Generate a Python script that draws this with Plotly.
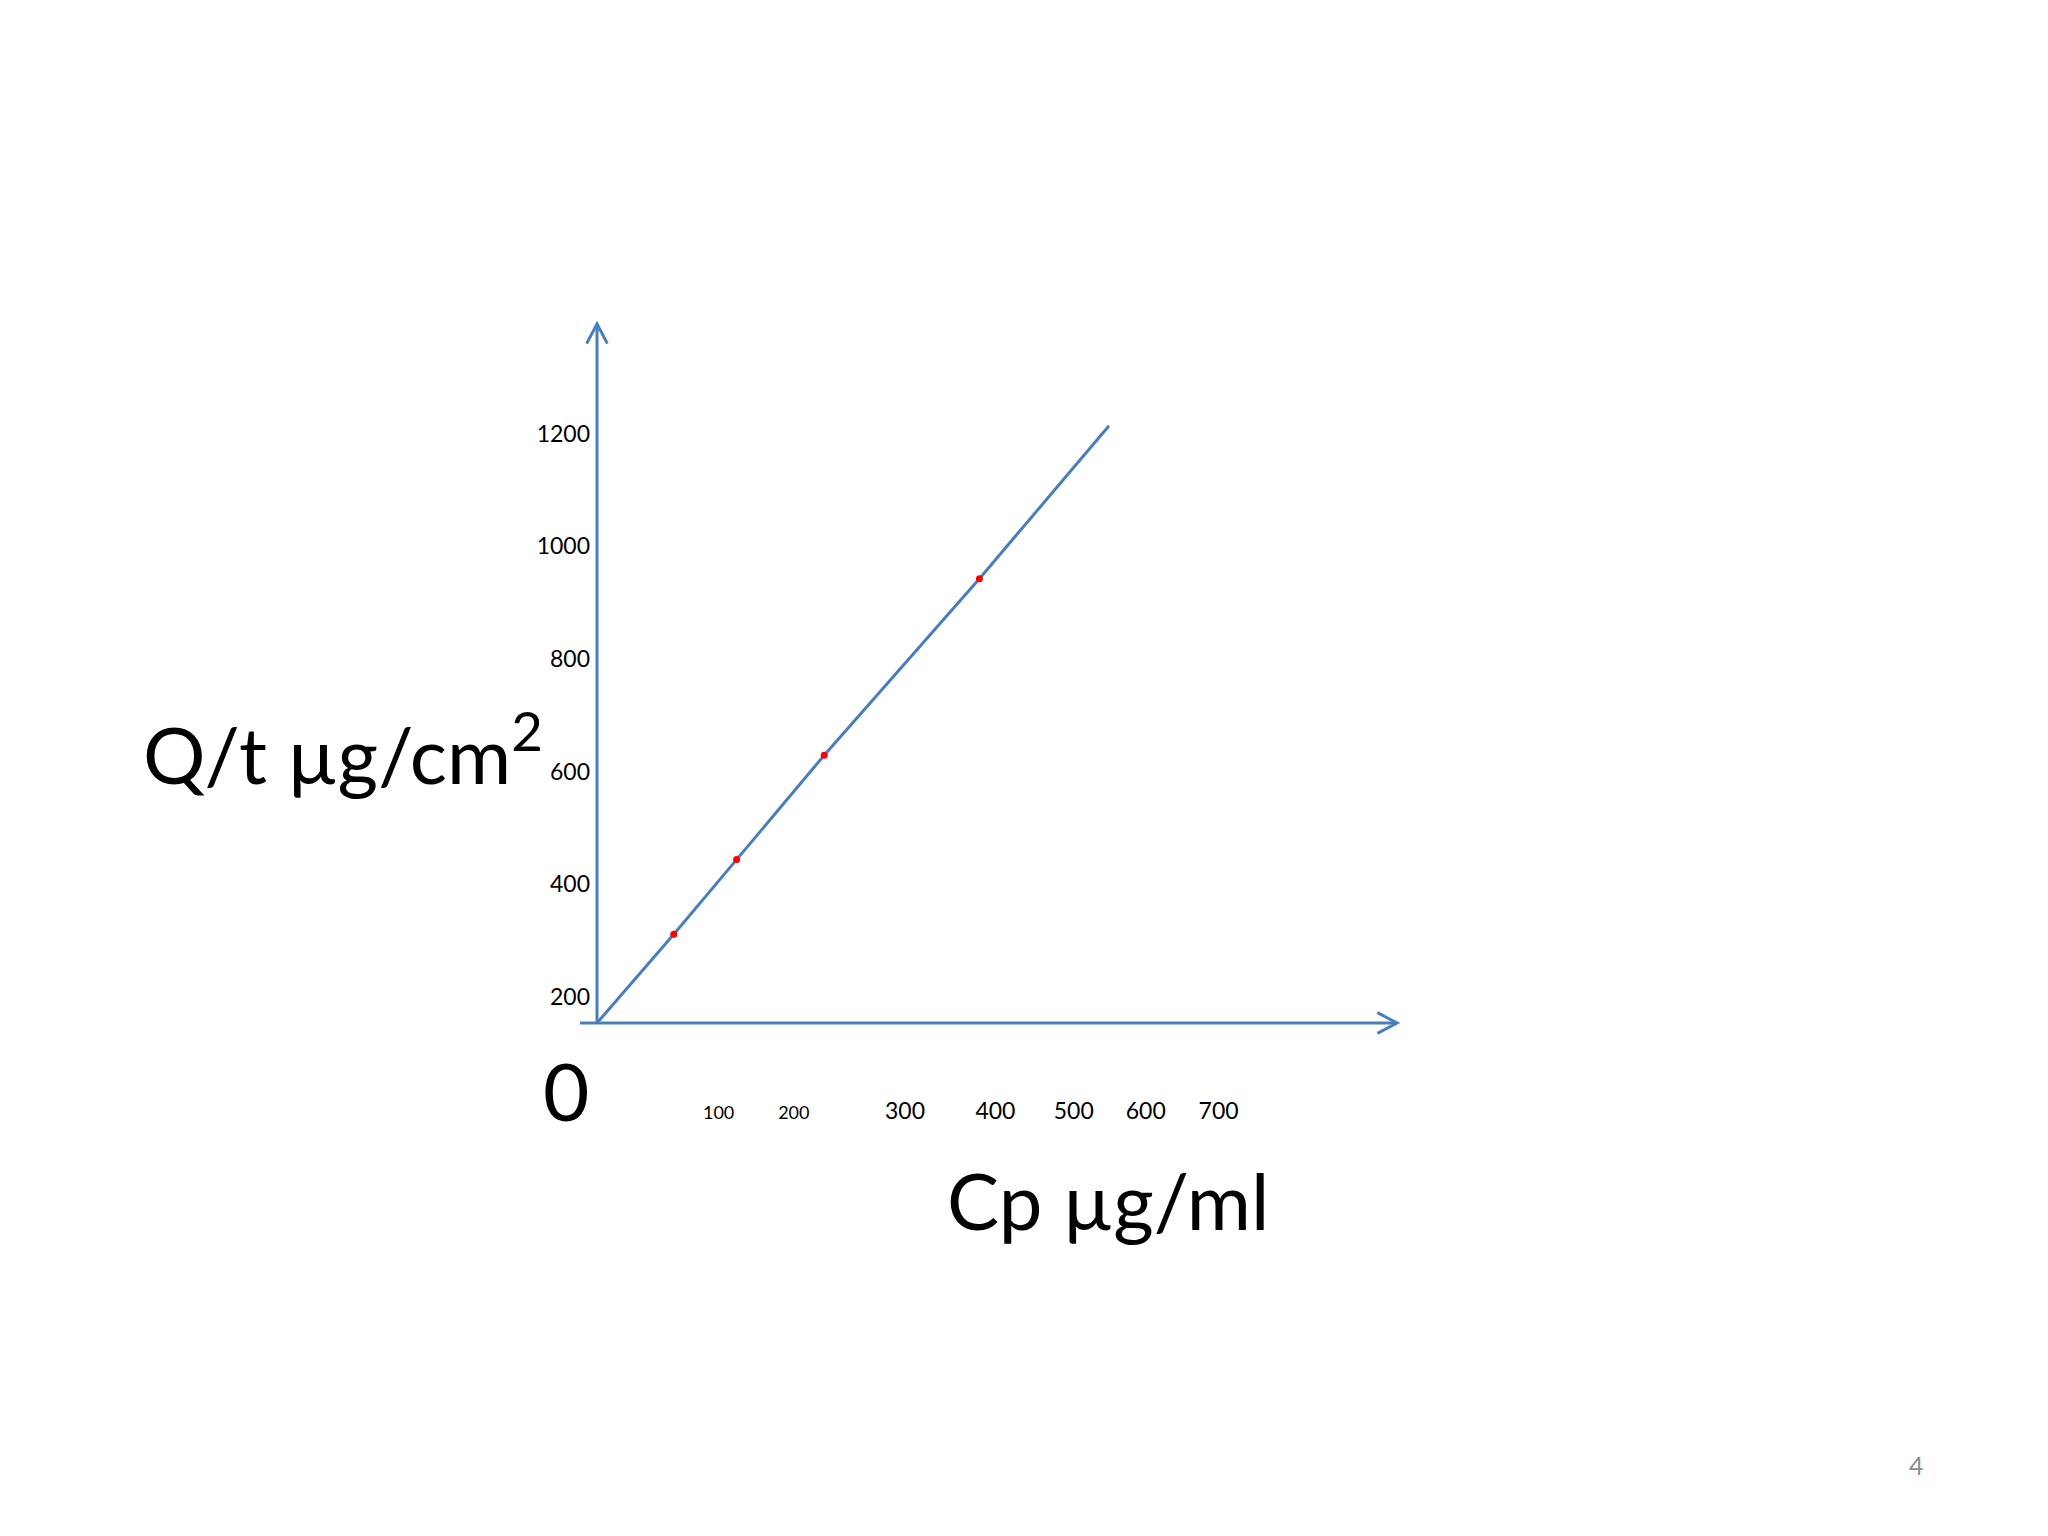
import plotly.graph_objects as go

# Valores (Cp en µg/ml, Q/t en µg/cm2)
cp_linea = [0, 96, 174.5, 284, 478, 640]
qt_linea = [153.6, 311, 443.7, 629, 942.4, 1214]

cp_puntos = [96, 174.5, 284, 478]
qt_puntos = [311, 443.7, 629, 942.4]

qt_ticks = [200, 400, 600, 800, 1000, 1200]
cp_tick_vals = [152, 246, 385, 498, 596, 686, 777]
cp_tick_text = ["100", "200", "300", "400", "500", "600", "700"]

# Geometría de la figura (pixeles de la página)
ancho, alto = 2048, 1536
cuerpo = 8  # margen por defecto del <body>
izq, der, arriba, abajo = 597, 1397, 324, 1023
w_plot = der - izq
h_plot = abajo - arriba

azul = "#4A7EBB"
fuente = "Lato"


def papel(px, py):
    """Convierte pixeles de la página a coordenadas 'paper'."""
    return (px - izq) / w_plot, (abajo - py) / h_plot


fig = go.Figure()

fig.add_trace(go.Scatter(
    x=cp_linea, y=qt_linea, mode="lines",
    line=dict(color=azul, width=3),
    hoverinfo="skip"
))

fig.add_trace(go.Scatter(
    x=cp_puntos, y=qt_puntos, mode="markers",
    marker=dict(color="red", size=7, symbol="circle"),
    hoverinfo="skip"
))

# Ejes dibujados como flechas abiertas
ax, ay = 10.4 / w_plot, 19.6 / h_plot
bx, by = 19.6 / w_plot, 10.4 / h_plot
ejes = [
    dict(type="line", x0=0, x1=0, y0=0, y1=1),
    dict(type="line", x0=-17 / w_plot, x1=1, y0=0, y1=0),
    dict(type="path", path=f"M {-ax},{1 - ay} L 0,1 L {ax},{1 - ay}"),
    dict(type="path", path=f"M {1 - bx},{by} L 1,0 L {1 - bx},{-by}"),
]
for s in ejes:
    fig.add_shape(xref="x domain", yref="y domain",
                  line=dict(color=azul, width=3), **s)

# Textos grandes
textos = [
    ("Q/t µg/cm<sup>2</sup>", 343, 749, 78, "black"),
    ("Cp µg/ml", 1108, 1200, 78, "black"),
    ("0", 566, 1090, 80, "black"),
    ("4", 1916, 1465, 25, "#8c8c8c"),
]
for t, px, py, tam, color in textos:
    xp, yp = papel(px, py)
    fig.add_annotation(x=xp, y=yp, xref="paper", yref="paper", text=t,
                       showarrow=False, xanchor="center", yanchor="middle",
                       font=dict(family=fuente, size=tam, color=color))

etiquetas_x = [
    f'<span style="font-size:18px">{t}</span>' if t in ("100", "200") else t
    for t in cp_tick_text
]

fig.update_xaxes(
    range=[0, 1000], tickvals=cp_tick_vals, ticktext=etiquetas_x,
    showgrid=False, zeroline=False, showline=False, ticks="",
    ticklabelstandoff=72,
    tickfont=dict(family=fuente, size=23, color="black")
)
fig.update_yaxes(
    range=[153.6, 1394.7], tickvals=qt_ticks,
    showgrid=False, zeroline=False, showline=False, ticks="",
    ticklabelstandoff=6,
    tickfont=dict(family=fuente, size=23, color="black")
)

ancho_fig, alto_fig = ancho - cuerpo, alto - cuerpo
fig.update_layout(
    width=ancho_fig, height=alto_fig,
    margin=dict(l=izq - cuerpo, r=ancho_fig - (der - cuerpo),
                t=arriba - cuerpo, b=alto_fig - (abajo - cuerpo), pad=0),
    plot_bgcolor="white", paper_bgcolor="white",
    showlegend=False
)

fig.write_html("out.html")
